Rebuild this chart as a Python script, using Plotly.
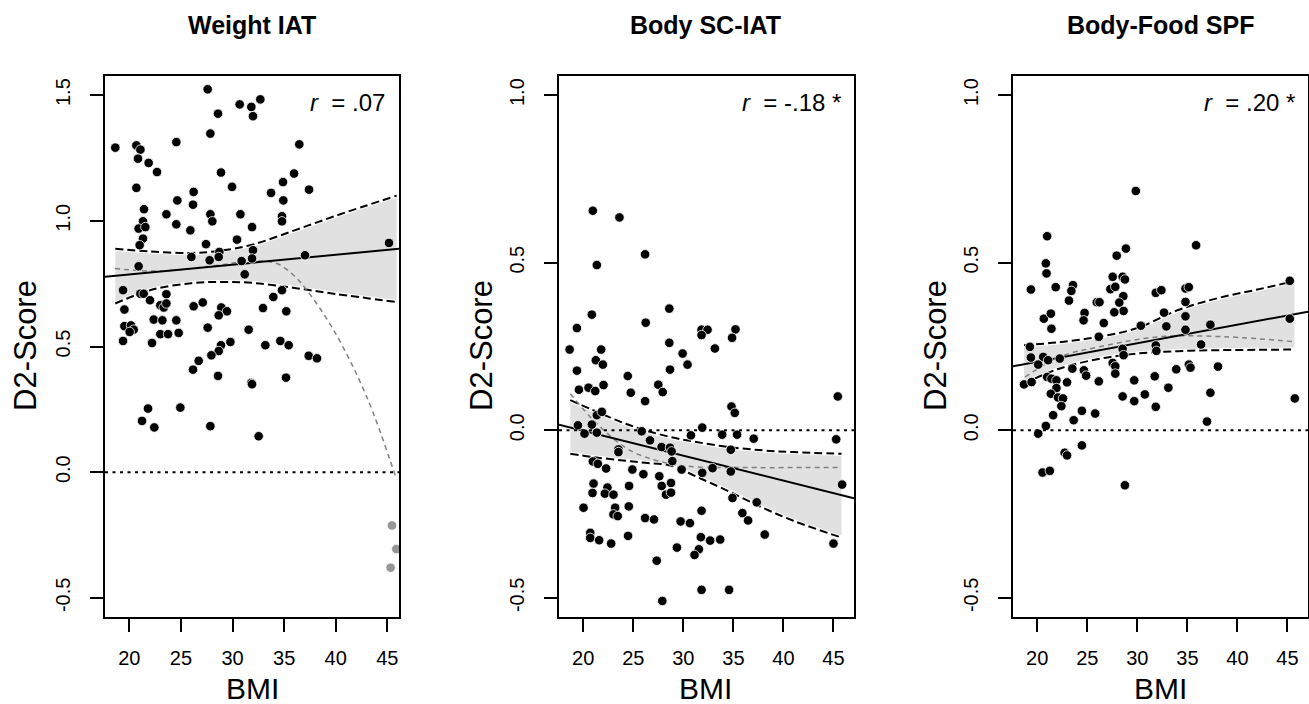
import plotly.graph_objects as go
from plotly.subplots import make_subplots

# ---------------- data ----------------
titles = ["Weight IAT", "Body SC-IAT", "Body-Food SPF"]
r_labels = ["<i>r</i>  = .07", "<i>r</i>  = -.18 *", "<i>r</i>  = .20 *"]
x_ticks = [20, 25, 30, 35, 40, 45]
y_ticks_1 = [-0.5, 0.0, 0.5, 1.0, 1.5]
y_ticks_23 = [-0.5, 0.0, 0.5, 1.0]

# Panel 1: Weight IAT
p1_bmi = [27.59, 30.69, 31.82, 32.69, 31.98, 28.59, 27.85, 18.64, 20.68, 21.07,
          20.84, 21.87, 22.68, 24.55, 36.47, 28.88, 35.96, 34.89, 37.41, 29.95,
          33.73, 20.68, 24.65, 26.23, 26.17, 34.92, 21.42, 23.59, 27.85, 28.04,
          30.76, 34.79, 34.79, 21.32, 20.90, 21.55, 24.55, 25.91, 31.89, 21.32,
          21.00, 30.43, 27.43, 26.01, 27.78, 28.72, 28.66, 31.98, 31.89, 30.88,
          37.02, 45.16, 20.90, 31.18, 19.39, 21.07, 21.39, 23.59, 22.00, 23.00,
          23.33, 23.59, 19.52, 26.23, 27.11, 28.91, 29.46, 28.66, 32.95, 33.95,
          34.79, 35.21, 22.36, 23.20, 24.55, 19.52, 20.16, 20.42, 20.03, 23.00,
          23.75, 24.78, 27.59, 31.56, 19.39, 22.20, 28.88, 29.79, 33.18, 34.63,
          35.44, 28.66, 27.95, 26.72, 26.17, 28.59, 31.82, 31.89, 35.18, 37.38,
          38.18, 21.81, 21.23, 22.42, 24.94, 27.85, 32.53]
p1_d2 = [1.523, 1.463, 1.453, 1.483, 1.416, 1.426, 1.347, 1.291, 1.300, 1.283,
         1.247, 1.230, 1.194, 1.313, 1.304, 1.192, 1.188, 1.154, 1.124, 1.135,
         1.111, 1.131, 1.081, 1.115, 1.064, 1.081, 1.046, 1.026, 1.026, 0.998,
         1.026, 1.018, 0.998, 0.998, 0.969, 0.975, 0.986, 0.962, 0.975, 0.929,
         0.903, 0.925, 0.907, 0.856, 0.843, 0.876, 0.856, 0.883, 0.850, 0.840,
         0.863, 0.912, 0.819, 0.787, 0.724, 0.710, 0.710, 0.708, 0.684, 0.664,
         0.655, 0.671, 0.647, 0.660, 0.675, 0.655, 0.640, 0.624, 0.653, 0.697,
         0.724, 0.640, 0.607, 0.604, 0.604, 0.581, 0.584, 0.567, 0.558, 0.549,
         0.549, 0.554, 0.575, 0.567, 0.522, 0.514, 0.505, 0.518, 0.505, 0.522,
         0.505, 0.482, 0.465, 0.443, 0.408, 0.383, 0.355, 0.350, 0.376, 0.463,
         0.453, 0.253, 0.204, 0.178, 0.257, 0.183, 0.143]
p1_out_bmi = [45.45, 45.87, 45.32]
p1_out_d2 = [-0.212, -0.306, -0.380]

p1_fit_x = [17.64, 46.13]
p1_fit_y = [0.777, 0.889]
p1_ci_x = [18.64, 22, 26, 29, 32, 36, 40, 45.9]
p1_ci_up = [0.889, 0.878, 0.872, 0.882, 0.906, 0.962, 1.020, 1.100]
p1_ci_lo = [0.671, 0.724, 0.752, 0.757, 0.753, 0.733, 0.709, 0.677]
p1_alt_x = [18.6, 23, 28, 32, 34.3, 36, 37.2, 39.8, 43, 45.9]
p1_alt_y = [0.81, 0.80, 0.82, 0.84, 0.83, 0.78, 0.724, 0.565, 0.30, -0.03]

# Panel 2: Body SC-IAT
p2_bmi = [20.96, 23.62, 26.18, 21.36, 20.86, 19.37, 26.24, 28.60, 31.82, 32.42,
          31.82, 35.21, 34.87, 18.64, 21.79, 28.60, 33.15, 29.93, 30.42, 21.26,
          21.96, 19.37, 28.67, 19.57, 20.53, 21.20, 22.03, 24.45, 24.75, 27.50,
          27.94, 26.18, 34.81, 35.14, 45.43, 21.36, 21.86, 19.47, 20.86, 20.13,
          21.36, 25.84, 26.67, 30.76, 31.89, 33.88, 35.37, 37.03, 45.27, 23.52,
          23.52, 27.83, 28.67, 28.83, 34.74, 28.90, 20.96, 21.46, 22.29, 24.91,
          26.01, 29.83, 32.92, 34.74, 31.89, 27.60, 21.03, 20.93, 22.42, 22.16,
          23.02, 24.58, 27.84, 28.77, 28.27, 28.77, 45.86, 20.03, 23.19, 23.02,
          23.45, 24.55, 34.91, 37.33, 35.90, 36.47, 31.82, 26.18, 27.07, 29.73,
          30.66, 20.70, 20.70, 21.59, 22.79, 24.48, 31.75, 32.68, 33.68, 38.13,
          45.00, 29.36, 31.55, 31.12, 27.34, 31.82, 34.57, 27.90]
p2_d2 = [0.655, 0.635, 0.525, 0.493, 0.345, 0.305, 0.321, 0.363, 0.300, 0.300,
         0.284, 0.301, 0.276, 0.241, 0.241, 0.261, 0.244, 0.229, 0.196, 0.209,
         0.196, 0.178, 0.181, 0.121, 0.127, 0.117, 0.135, 0.162, 0.112, 0.136,
         0.114, 0.087, 0.071, 0.052, 0.101, 0.045, 0.055, 0.015, 0.017, -0.010,
         -0.007, -0.003, -0.030, -0.015, 0.008, -0.013, -0.013, -0.025, -0.027, -0.057,
         -0.065, -0.050, -0.052, -0.063, -0.058, -0.092, -0.093, -0.100, -0.114, -0.117,
         -0.131, -0.117, -0.113, -0.123, -0.127, -0.137, -0.159, -0.187, -0.171, -0.189,
         -0.192, -0.166, -0.166, -0.157, -0.192, -0.186, -0.162, -0.231, -0.231, -0.251,
         -0.256, -0.227, -0.202, -0.215, -0.247, -0.269, -0.240, -0.262, -0.266, -0.272,
         -0.277, -0.306, -0.321, -0.328, -0.338, -0.315, -0.319, -0.329, -0.326, -0.311,
         -0.338, -0.350, -0.355, -0.372, -0.389, -0.476, -0.476, -0.509]

p2_fit_x = [17.58, 47.05]
p2_fit_y = [0.017, -0.203]
p2_ci_x = [18.71, 21, 24, 26.2, 28.7, 31.3, 34.6, 38, 41, 45.8]
p2_ci_up = [0.090, 0.060, 0.022, 0.000, -0.020, -0.035, -0.050, -0.060, -0.065, -0.070]
p2_ci_lo = [-0.070, -0.080, -0.090, -0.097, -0.105, -0.138, -0.183, -0.232, -0.270, -0.320]
p2_alt_x = [18.71, 21.36, 24.68, 28.67, 31.32, 34.64, 45.76]
p2_alt_y = [0.109, 0.020, -0.060, -0.100, -0.109, -0.111, -0.111]

# Panel 3: Body-Food SPF
p3_bmi = [29.85, 20.99, 35.87, 28.86, 27.94, 20.86, 20.93, 19.37, 21.85, 23.57,
          23.41, 27.54, 28.53, 28.76, 27.31, 27.80, 28.60, 28.20, 25.95, 26.22,
          23.17, 31.84, 32.40, 34.81, 35.14, 34.81, 45.23, 32.67, 34.81, 34.81,
          28.63, 27.70, 24.73, 24.63, 20.66, 21.36, 21.42, 26.65, 30.35, 32.90,
          37.30, 45.23, 26.15, 31.84, 36.37, 19.27, 28.53, 31.90, 28.63, 19.37,
          20.60, 21.09, 20.10, 22.25, 27.54, 27.80, 27.80, 23.51, 24.66, 24.89,
          20.99, 21.42, 21.92, 22.98, 26.15, 18.68, 19.44, 21.92, 29.69, 31.74,
          33.89, 35.15, 35.31, 38.06, 33.10, 21.36, 22.08, 22.58, 22.41, 28.53,
          29.69, 30.75, 31.84, 37.30, 45.73, 21.59, 20.86, 20.10, 23.64, 24.46,
          25.79, 36.96, 22.74, 22.98, 24.46, 20.53, 21.26, 28.76]
p3_d2 = [0.714, 0.579, 0.552, 0.542, 0.521, 0.498, 0.468, 0.420, 0.427, 0.433,
         0.416, 0.458, 0.458, 0.450, 0.421, 0.428, 0.400, 0.381, 0.382, 0.382,
         0.387, 0.410, 0.418, 0.423, 0.427, 0.383, 0.446, 0.351, 0.340, 0.300,
         0.356, 0.352, 0.350, 0.328, 0.333, 0.348, 0.303, 0.320, 0.312, 0.310,
         0.315, 0.333, 0.279, 0.253, 0.256, 0.249, 0.243, 0.237, 0.224, 0.217,
         0.219, 0.209, 0.196, 0.214, 0.201, 0.191, 0.169, 0.184, 0.179, 0.163,
         0.159, 0.154, 0.149, 0.143, 0.146, 0.137, 0.144, 0.126, 0.149, 0.161,
         0.182, 0.196, 0.187, 0.190, 0.127, 0.109, 0.098, 0.095, 0.072, 0.101,
         0.087, 0.107, 0.070, 0.112, 0.095, 0.045, 0.013, -0.010, 0.030, 0.058,
         0.050, 0.026, -0.067, -0.075, -0.045, -0.126, -0.121, -0.164]

p3_fit_x = [17.58, 47.05]
p3_fit_y = [0.191, 0.354]
p3_ci_x = [18.68, 22, 26, 30, 34, 38, 42, 45.7]
p3_ci_up = [0.254, 0.262, 0.278, 0.305, 0.358, 0.394, 0.420, 0.445]
p3_ci_lo = [0.139, 0.182, 0.212, 0.229, 0.236, 0.239, 0.240, 0.241]
p3_alt_x = [18.78, 22.25, 26.2, 32.2, 38.8, 45.7]
p3_alt_y = [0.159, 0.219, 0.249, 0.279, 0.279, 0.264]

x_ranges = [[17.64, 46.13], [17.58, 47.05], [17.58, 47.05]]
y_ranges = [[-0.576, 1.576], [-0.557, 1.057], [-0.557, 1.057]]

# ---------------- figure ----------------
W, H = 1309, 704
FONT = "Liberation Sans, Arial, Helvetica, sans-serif"
fig = make_subplots(rows=1, cols=3)

panels = [
    (p1_bmi, p1_d2, p1_fit_x, p1_fit_y, p1_ci_x, p1_ci_up, p1_ci_lo, p1_alt_x, p1_alt_y),
    (p2_bmi, p2_d2, p2_fit_x, p2_fit_y, p2_ci_x, p2_ci_up, p2_ci_lo, p2_alt_x, p2_alt_y),
    (p3_bmi, p3_d2, p3_fit_x, p3_fit_y, p3_ci_x, p3_ci_up, p3_ci_lo, p3_alt_x, p3_alt_y),
]

for i, (bx, by, fx, fy, cx, cu, cl, ax, ay) in enumerate(panels):
    col = i + 1
    # confidence band
    fig.add_trace(go.Scatter(x=cx, y=cl, mode="lines", line=dict(width=0, shape="spline"),
                             hoverinfo="skip", showlegend=False), row=1, col=col)
    fig.add_trace(go.Scatter(x=cx, y=cu, mode="lines", line=dict(width=0, shape="spline"),
                             fill="tonexty", fillcolor="rgb(225,225,225)",
                             hoverinfo="skip", showlegend=False), row=1, col=col)
    # white halos + black dashed CI lines
    for yy in (cu, cl):
        fig.add_trace(go.Scatter(x=cx, y=yy, mode="lines",
                                 line=dict(color="white", width=4, shape="spline"),
                                 hoverinfo="skip", showlegend=False), row=1, col=col)
        fig.add_trace(go.Scatter(x=cx, y=yy, mode="lines",
                                 line=dict(color="black", width=2, dash="8px,4px", shape="spline"),
                                 hoverinfo="skip", showlegend=False), row=1, col=col)
    # grey dashed alternative fit
    fig.add_trace(go.Scatter(x=ax, y=ay, mode="lines",
                             line=dict(color="rgb(128,128,128)", width=1.5, dash="5px,4px",
                                       shape="spline"),
                             hoverinfo="skip", showlegend=False), row=1, col=col)
    # regression line
    fig.add_trace(go.Scatter(x=fx, y=fy, mode="lines", line=dict(color="black", width=2),
                             hoverinfo="skip", showlegend=False), row=1, col=col)
    # points
    fig.add_trace(go.Scatter(x=bx, y=by, mode="markers",
                             marker=dict(size=9.5, color="black",
                                         line=dict(color="white", width=0.8)),
                             showlegend=False), row=1, col=col)
    if i == 0:
        fig.add_trace(go.Scatter(x=p1_out_bmi, y=p1_out_d2, mode="markers",
                                 marker=dict(size=9.5, color="rgb(150,150,150)",
                                             line=dict(color="white", width=0.8)),
                                 showlegend=False), row=1, col=col)

# axes geometry (pixels -> paper)
x_px = [(105, 399), (559, 854), (1013, 1308)]
y_top, y_bot = 76, 617
ydom = [1 - y_bot / H, 1 - y_top / H]

for i in range(3):
    xa = "xaxis" if i == 0 else f"xaxis{i+1}"
    ya = "yaxis" if i == 0 else f"yaxis{i+1}"
    fig.layout[xa].update(
        domain=[x_px[i][0] / W, x_px[i][1] / W], range=x_ranges[i],
        tickvals=x_ticks, ticktext=[str(t) for t in x_ticks],
        showline=True, mirror=True, linecolor="black", linewidth=2,
        ticks="outside", ticklen=13, tickwidth=2, tickcolor="black",
        showgrid=False, zeroline=False, automargin=False,
        ticklabelstandoff=9,
        tickfont=dict(family=FONT, size=20, color="black"))
    yt = y_ticks_1 if i == 0 else y_ticks_23
    fig.layout[ya].update(
        domain=ydom, range=y_ranges[i],
        tickvals=yt, ticktext=[f"{t:.1f}" for t in yt],
        tickangle=-90,
        showline=True, mirror=True, linecolor="black", linewidth=2,
        ticks="outside", ticklen=13, tickwidth=2, tickcolor="black",
        showgrid=False, zeroline=False, automargin=False,
        ticklabelstandoff=12,
        tickfont=dict(family=FONT, size=20, color="black"))
    # zero dotted reference line
    fig.add_shape(type="line", xref=f"x{'' if i == 0 else i+1} domain",
                  yref=f"y{'' if i == 0 else i+1}",
                  x0=0, x1=1, y0=0, y1=0,
                  line=dict(color="black", width=2, dash="3px,4.5px"))

annotations = []
title_cx = [252, 706, 1160]
ylab_cx = [25, 481, 935]
r_right = [387, 843, 1297]
for i in range(3):
    annotations.append(dict(text=f"<b>{titles[i]}</b>", x=title_cx[i] / W, y=1 - 25 / H,
                            xref="paper", yref="paper", showarrow=False,
                            xanchor="center", yanchor="middle",
                            font=dict(family=FONT, size=25, color="black")))
    annotations.append(dict(text="BMI", x=title_cx[i] / W, y=1 - 688 / H,
                            xref="paper", yref="paper", showarrow=False,
                            xanchor="center", yanchor="middle",
                            font=dict(family=FONT, size=30, color="black")))
    annotations.append(dict(text="D2-Score", x=ylab_cx[i] / W, y=1 - 346 / H,
                            xref="paper", yref="paper", showarrow=False, textangle=-90,
                            xanchor="center", yanchor="middle",
                            font=dict(family=FONT, size=31, color="black")))
    annotations.append(dict(text=r_labels[i], x=r_right[i] / W, y=1 - 102 / H,
                            xref="paper", yref="paper", showarrow=False,
                            xanchor="right", yanchor="middle",
                            font=dict(family=FONT, size=24, color="black")))

fig.update_layout(width=W, height=H, margin=dict(l=0, r=0, t=0, b=0),
                  paper_bgcolor="white", plot_bgcolor="white",
                  annotations=annotations, showlegend=False)

fig.write_html("out.html",
               config={"displayModeBar": False, "staticPlot": True},
               post_script="document.body.style.margin='0';"
                           "document.body.style.padding='0';"
                           "document.body.style.overflow='hidden';")
